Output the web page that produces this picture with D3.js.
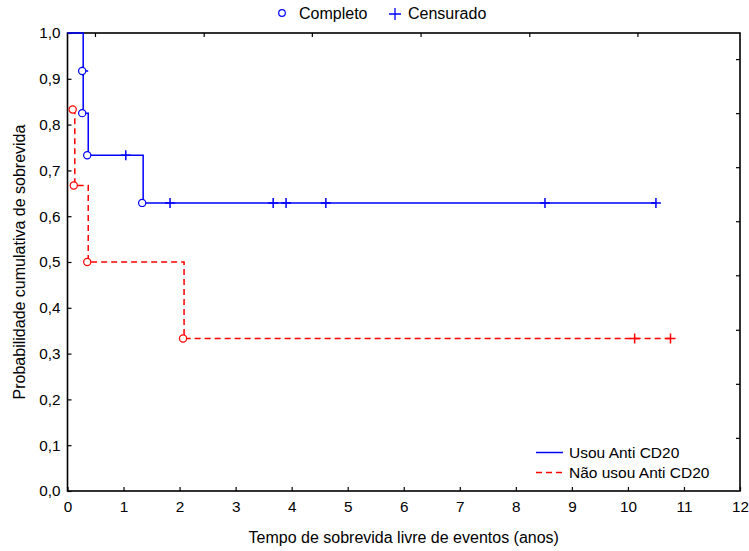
<script src="https://d3js.org/d3.v7.min.js"></script>
<style>
  body { margin: 0; background: #fff; }
  text { font-family: Arial, "Liberation Sans", sans-serif; }
</style>
<body>
<script>
// tamanho e margens
const width = 749, height = 551;
const margin = {left: 67.5, right: 9, top: 33, bottom: 60};
const w = width - margin.left - margin.right;
const h = height - margin.top - margin.bottom;

// Usou Anti CD20 (tipo: 0 = inicio, 1 = completo, 2 = censurado)
const usouTempo  = [0, 0.28, 0.28, 0.28, 0.37, 1.04, 1.35, 1.83, 3.67, 3.90, 4.61, 8.52, 10.50];
const usouSobrev = [1.0, 0.917, 0.917, 0.825, 0.733, 0.733, 0.629, 0.629, 0.629, 0.629, 0.629, 0.629, 0.629];
const usouTipo   = [0, 1, 2, 1, 1, 2, 1, 2, 2, 2, 2, 2, 2];

// Nao usou Anti CD20
const naoTempo  = [0.11, 0.13, 0.37, 2.08, 10.12, 10.76];
const naoSobrev = [0.833, 0.667, 0.5, 0.333, 0.333, 0.333];
const naoTipo   = [1, 1, 1, 1, 2, 2];

const xTicks = d3.range(0, 13, 1);
const yTicks = d3.range(0, 1.01, 0.1);
// marcas secundarias (eixos de cima e da direita)
const topTicks   = [0.49, 2.43, 4.36, 6.30, 8.24, 10.17];
const rightTicks = [0.116, 0.234, 0.352, 0.471, 0.589, 0.707, 0.825, 0.943];

const svg = d3.select("body").append("svg")
    .attr("width", width)
    .attr("height", height)
    .style("font-family", "Arial, 'Liberation Sans', sans-serif");

const g = svg.append("g")
    .attr("transform", `translate(${margin.left},${margin.top})`);

const x = d3.scaleLinear().domain([0, 12]).range([0, w]);
const y = d3.scaleLinear().domain([0, 1]).range([h, 0]);

const fmt = d3.format(".1f");

// eixo de baixo
const xAxis = g.append("g")
    .attr("transform", `translate(0,${h})`)
    .call(d3.axisBottom(x).tickValues(xTicks).tickSize(-4).tickPadding(10).tickFormat(d3.format("d")));
// eixo da esquerda
const yAxis = g.append("g")
    .call(d3.axisLeft(y).tickValues(yTicks).tickSize(-4).tickPadding(7)
        .tickFormat(d => fmt(d).replace(".", ",")));
// cima e direita
const topAxis = g.append("g")
    .call(d3.axisTop(x).tickValues(topTicks).tickSize(-4).tickFormat(""));
const rightAxis = g.append("g")
    .attr("transform", `translate(${w},0)`)
    .call(d3.axisRight(y).tickValues(rightTicks).tickSize(-4).tickFormat(""));

[xAxis, yAxis, topAxis, rightAxis].forEach(a => {
  a.select(".domain").remove();
  a.selectAll("line").attr("stroke", "#000").attr("stroke-width", 1.2);
  a.selectAll("text").attr("font-size", 15.3).attr("fill", "#000")
   .attr("font-family", "Arial, 'Liberation Sans', sans-serif");
});

// moldura
g.append("rect")
    .attr("width", w).attr("height", h)
    .attr("fill", "none").attr("stroke", "#000").attr("stroke-width", 1.6);

// curva em degraus
function degraus(tempos, sobrev) {
  let d = `M${x(tempos[0])},${y(sobrev[0])}`;
  for (let i = 1; i < tempos.length; i++) {
    d += `H${x(tempos[i])}V${y(sobrev[i])}`;
  }
  return d;
}

function addCurva(tempos, sobrev, tipos, cor, dash) {
  g.append("path")
    .attr("d", degraus(tempos, sobrev))
    .attr("fill", "none")
    .attr("stroke", cor)
    .attr("stroke-width", 1.5)
    .attr("stroke-dasharray", dash);

  const pts = tempos.map((t, i) => ({t: t, s: sobrev[i], tipo: tipos[i]}));

  g.selectAll(null)
    .data(pts.filter(p => p.tipo === 2))
    .enter().append("path")
    .attr("d", p => `M${x(p.t) - 5},${y(p.s)}H${x(p.t) + 5}M${x(p.t)},${y(p.s) - 5}V${y(p.s) + 5}`)
    .attr("stroke", cor)
    .attr("stroke-width", 1.5);

  g.selectAll(null)
    .data(pts.filter(p => p.tipo === 1))
    .enter().append("circle")
    .attr("cx", p => x(p.t) - 1)
    .attr("cy", p => y(p.s))
    .attr("r", 3.6)
    .attr("fill", "#fff")
    .attr("stroke", cor)
    .attr("stroke-width", 1.2);
}

addCurva(usouTempo, usouSobrev, usouTipo, "#0000ff", null);
addCurva(naoTempo, naoSobrev, naoTipo, "#ff0000", "6,4");

// legenda de cima
const leg1 = svg.append("g");
leg1.append("circle").attr("cx", 282).attr("cy", 13).attr("r", 3.3)
    .attr("fill", "none").attr("stroke", "#0000ff").attr("stroke-width", 1.2);
leg1.append("text").attr("x", 299).attr("y", 18.5).attr("font-size", 16).text("Completo");
leg1.append("path").attr("d", "M389,14H401M395,8V20").attr("stroke", "#0000ff").attr("stroke-width", 1.3);
leg1.append("text").attr("x", 408).attr("y", 18.5).attr("font-size", 16).text("Censurado");

// legenda das curvas
const leg2 = svg.append("g");
const series = [
  {nome: "Usou Anti CD20", cor: "#0000ff", dash: null, yy: 452.5},
  {nome: "Não usou Anti CD20", cor: "#ff0000", dash: "6,4", yy: 472.5}
];
series.forEach(s => {
  leg2.append("line").attr("x1", 536).attr("x2", 563).attr("y1", s.yy).attr("y2", s.yy)
      .attr("stroke", s.cor).attr("stroke-width", 1.5).attr("stroke-dasharray", s.dash);
  leg2.append("text").attr("x", 569).attr("y", s.yy + 5.5).attr("font-size", 15.5).text(s.nome);
});

// titulos dos eixos
svg.append("text")
    .attr("x", margin.left + w / 2).attr("y", 543)
    .attr("text-anchor", "middle").attr("font-size", 16)
    .text("Tempo de sobrevida livre de eventos (anos)");

svg.append("text")
    .attr("transform", `translate(25,${margin.top + h / 2}) rotate(-90)`)
    .attr("text-anchor", "middle").attr("font-size", 16)
    .text("Probabilidade cumulativa de sobrevida");
</script>
</body>
